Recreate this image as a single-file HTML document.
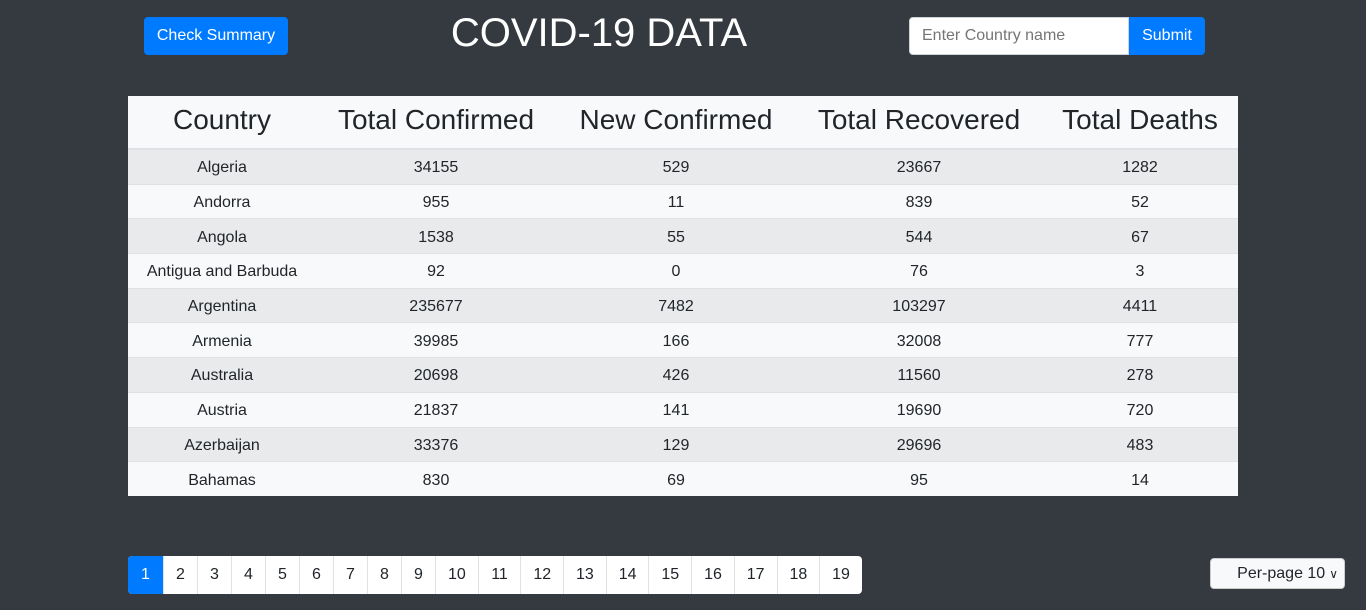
<!DOCTYPE html>
<html><head><meta charset="utf-8"><style>
body{margin:0;width:1366px;height:610px;background:#343a40;font-family:"Liberation Sans",sans-serif;position:relative;overflow:hidden}
.btn{position:absolute;background:#007bff;color:#fff;font-size:16px;border-radius:4px;display:flex;align-items:center;justify-content:center}
h1{position:absolute;left:0;width:1198px;top:11px;margin:0;text-align:center;color:#fff;font-weight:400;font-size:40px}
input{position:absolute;left:909px;top:17px;width:220px;height:38px;box-sizing:border-box;border:1px solid #ced4da;border-radius:4px 0 0 4px;padding:0 12px;font-size:16px;font-family:"Liberation Sans",sans-serif}
table{position:absolute;left:128px;top:96px;width:1110px;border-collapse:collapse;background:#f8f9fa;color:#212529}
th{font-weight:400;font-size:28px;height:53px;border-bottom:2px solid #dee2e6;padding:0 0 4px 0;box-sizing:border-box}
td{text-align:center;font-size:16px;height:30.7px;padding:3px 0 0 0;border-top:1px solid #dee2e6;line-height:16px}
tbody tr:nth-child(odd){background:#e9eaec}
.pg{position:absolute;left:128px;top:556px;height:38px;display:flex;background:#fff;border-radius:4px;overflow:hidden}
.pg div{height:38px;display:flex;align-items:center;justify-content:center;border-left:1px solid #dee2e6;font-size:16px;color:#212529;box-sizing:border-box}
.pg div.a{background:#007bff;color:#fff;border:none}
.sel{position:absolute;left:1210px;top:558px;width:135px;height:31px;background:#f8f9fa;border:1px solid #ccc;border-radius:4px;box-sizing:border-box;font-size:16px;color:#212529;display:flex;align-items:center;justify-content:flex-end;padding-right:6px}
</style></head><body>
<div class="btn" style="left:144px;top:17px;width:144px;height:38px">Check Summary</div>
<h1>COVID-19 DATA</h1>
<input placeholder="Enter Country name">
<div class="btn" style="left:1129px;top:17px;width:76px;height:38px;border-radius:0 4px 4px 0">Submit</div>
<table>
<colgroup><col style="width:188px"><col style="width:240px"><col style="width:240px"><col style="width:246px"><col style="width:196px"></colgroup>
<thead><tr><th>Country</th><th>Total Confirmed</th><th>New Confirmed</th><th>Total Recovered</th><th>Total Deaths</th></tr></thead>
<tbody>
<tr><td>Algeria</td><td>34155</td><td>529</td><td>23667</td><td>1282</td></tr>
<tr><td>Andorra</td><td>955</td><td>11</td><td>839</td><td>52</td></tr>
<tr><td>Angola</td><td>1538</td><td>55</td><td>544</td><td>67</td></tr>
<tr><td>Antigua and Barbuda</td><td>92</td><td>0</td><td>76</td><td>3</td></tr>
<tr><td>Argentina</td><td>235677</td><td>7482</td><td>103297</td><td>4411</td></tr>
<tr><td>Armenia</td><td>39985</td><td>166</td><td>32008</td><td>777</td></tr>
<tr><td>Australia</td><td>20698</td><td>426</td><td>11560</td><td>278</td></tr>
<tr><td>Austria</td><td>21837</td><td>141</td><td>19690</td><td>720</td></tr>
<tr><td>Azerbaijan</td><td>33376</td><td>129</td><td>29696</td><td>483</td></tr>
<tr><td>Bahamas</td><td>830</td><td>69</td><td>95</td><td>14</td></tr>
</tbody></table>
<div class="pg">
<div class="a" style="width:35px">1</div>
<div style="width:34px">2</div>
<div style="width:34px">3</div>
<div style="width:34px">4</div>
<div style="width:34px">5</div>
<div style="width:34px">6</div>
<div style="width:34px">7</div>
<div style="width:34px">8</div>
<div style="width:34px">9</div>
<div style="width:42.7px">10</div>
<div style="width:42.7px">11</div>
<div style="width:42.7px">12</div>
<div style="width:42.7px">13</div>
<div style="width:42.7px">14</div>
<div style="width:42.7px">15</div>
<div style="width:42.7px">16</div>
<div style="width:42.7px">17</div>
<div style="width:42.7px">18</div>
<div style="width:42.7px">19</div>
</div>
<div class="sel">Per-page 10 <span style="font-size:12px;margin-left:4px">&#x2228;</span></div>
</body></html>
